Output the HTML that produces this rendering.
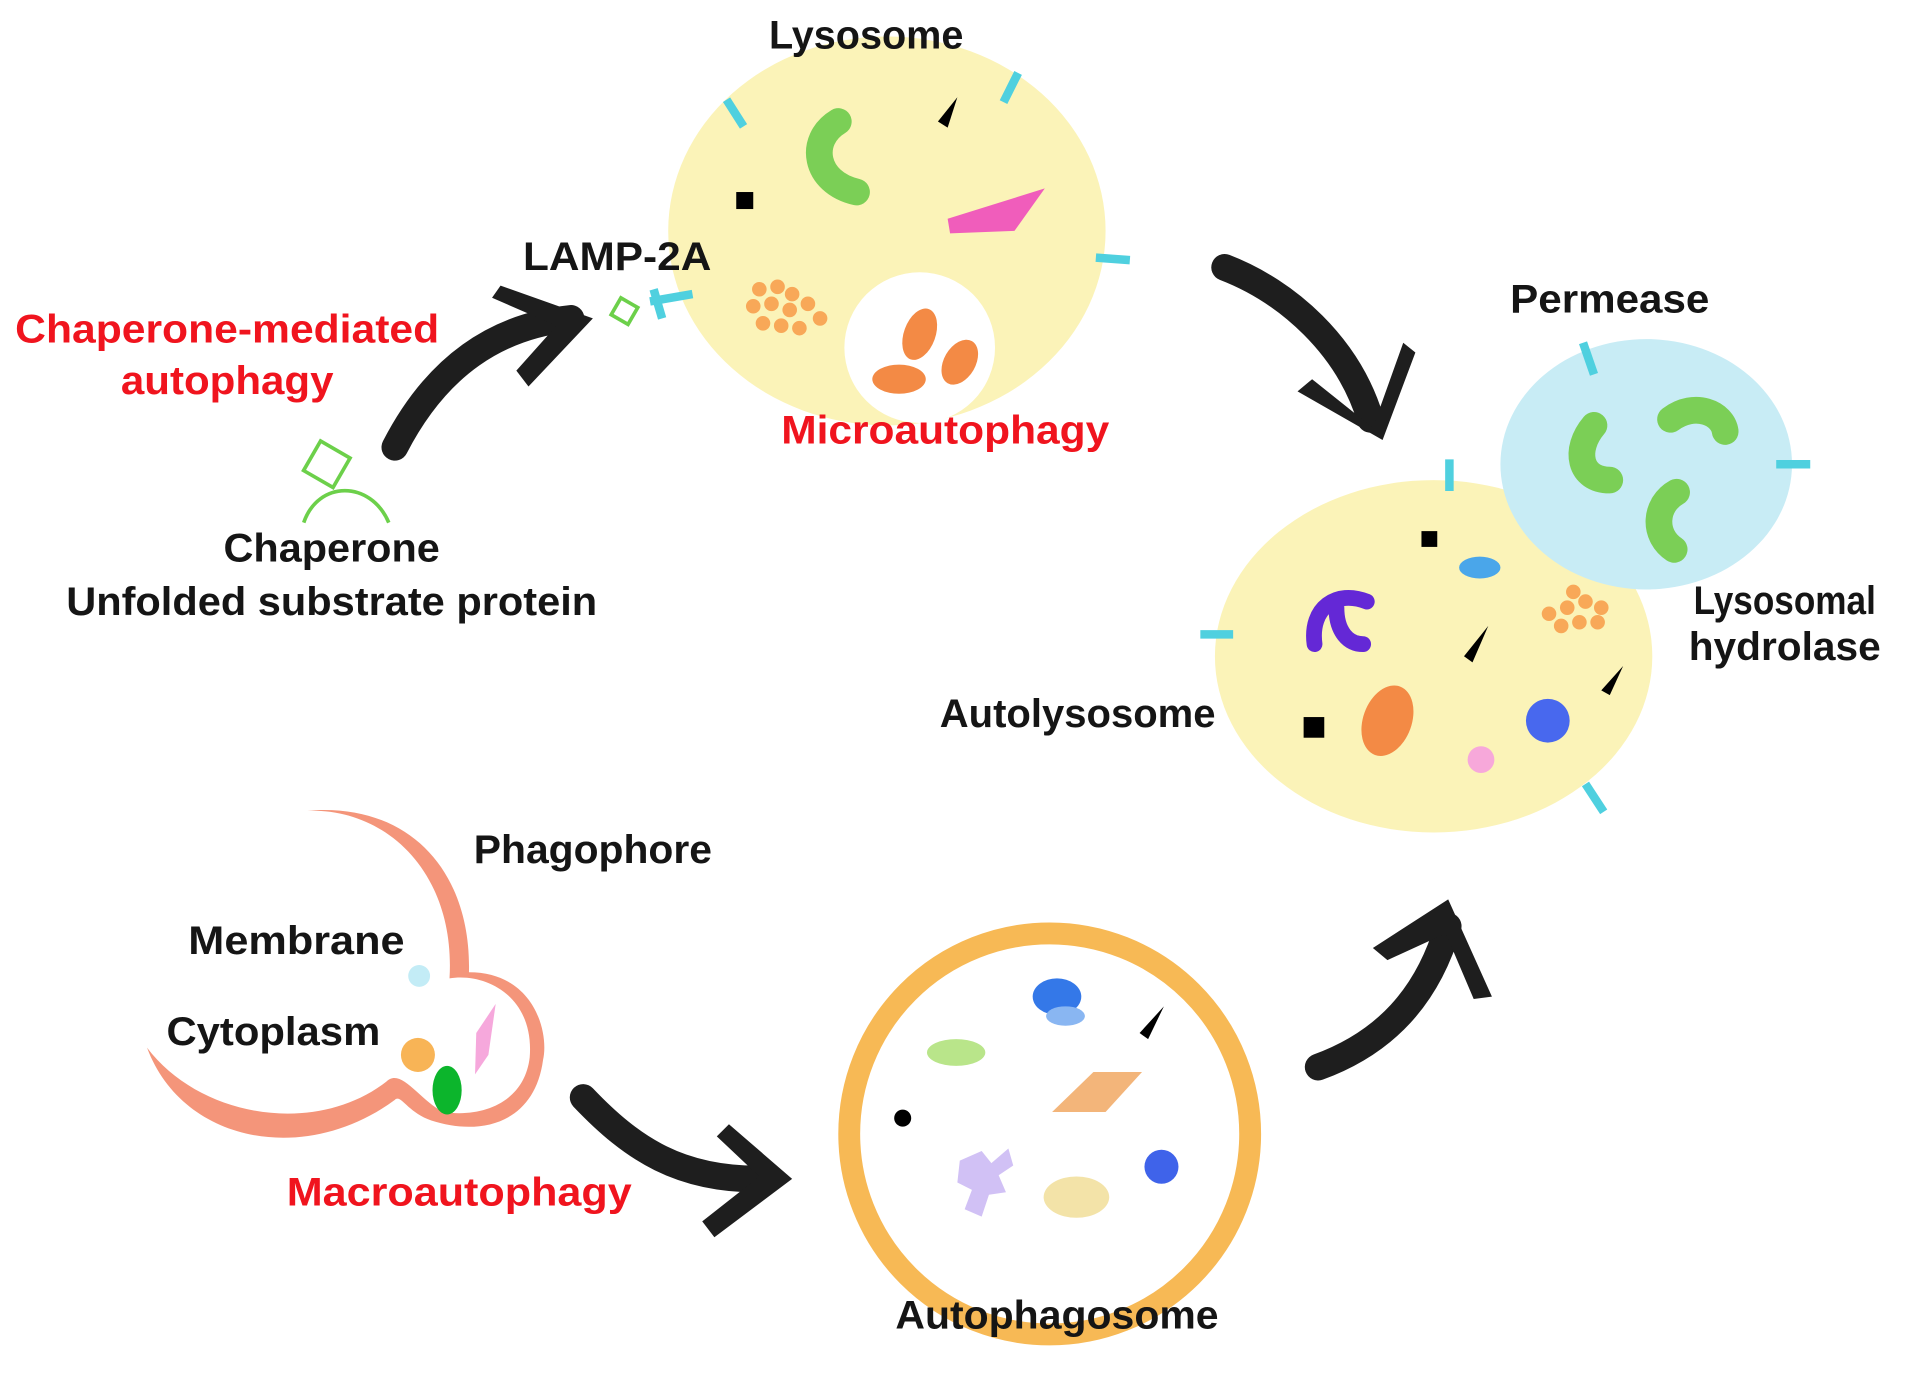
<!DOCTYPE html>
<html><head><meta charset="utf-8"><style>
html,body{margin:0;padding:0;background:#fff}
svg{display:block}
text{font-family:"Liberation Sans Narrow","Liberation Sans",sans-serif;font-size:33px;font-weight:bold;text-anchor:middle;fill:#151515}
.r{fill:#f0141e}
</style></head><body>
<svg width="1905" height="1377" viewBox="0 0 1568 1133" preserveAspectRatio="none" xmlns="http://www.w3.org/2000/svg">
<rect width="1568" height="1133" fill="#fff"/>
<!-- Lysosome -->
<ellipse cx="730" cy="190" rx="180" ry="160" fill="#fbf3b8"/>
<circle cx="757" cy="286" r="62" fill="#fff"/>
<g stroke="#4fd0df" stroke-width="7">
<line x1="598" y1="82" x2="612" y2="104"/><line x1="838" y1="60" x2="826" y2="84"/><line x1="902" y1="212" x2="930" y2="214"/>
<line x1="535" y1="248" x2="570" y2="242"/><line x1="538" y1="238" x2="545" y2="262"/>
</g>
<path d="M690,100 C665,115 670,150 705,158" stroke="#7bcf56" stroke-width="22" fill="none" stroke-linecap="round"/>
<path d="M780,180 L860,155 L835,190 L782,192Z" fill="#f05dbb"/>
<rect x="606" y="158" width="14" height="14" fill="#000"/>
<path d="M788,80 L780,105 L772,100Z" fill="#000"/>
<g fill="#f8a858"><circle cx="625" cy="238" r="6"/><circle cx="640" cy="236" r="6"/><circle cx="652" cy="242" r="6"/><circle cx="620" cy="252" r="6"/><circle cx="635" cy="250" r="6"/><circle cx="650" cy="255" r="6"/><circle cx="665" cy="250" r="6"/><circle cx="628" cy="266" r="6"/><circle cx="643" cy="268" r="6"/><circle cx="658" cy="270" r="6"/><circle cx="675" cy="262" r="6"/></g>
<g fill="#f38a45"><ellipse cx="757" cy="275" rx="13" ry="22" transform="rotate(20 757 275)"/><ellipse cx="740" cy="312" rx="22" ry="12"/><ellipse cx="790" cy="298" rx="13" ry="20" transform="rotate(30 790 298)"/></g>
<rect x="506" y="248" width="16" height="16" fill="none" stroke="#6cd04a" stroke-width="3" transform="rotate(30 514 256)"/>
<!-- Autolysosome -->
<ellipse cx="1180" cy="540" rx="180" ry="145" fill="#fbf3b8"/>
<ellipse cx="1355" cy="382" rx="120" ry="103" fill="#c8ecf5"/>
<g stroke="#4fd0df" stroke-width="7">
<line x1="1193" y1="378" x2="1193" y2="404"/><line x1="988" y1="522" x2="1015" y2="522"/><line x1="1305" y1="645" x2="1320" y2="668"/>
<line x1="1303" y1="282" x2="1312" y2="308"/><line x1="1462" y1="382" x2="1490" y2="382"/>
</g>
<g stroke="#7bcf56" stroke-width="22" fill="none" stroke-linecap="round">
<path d="M1312,350 C1295,370 1300,395 1325,395"/><path d="M1375,345 C1395,330 1418,340 1420,355"/><path d="M1380,405 C1362,415 1360,440 1378,452"/></g>
<path d="M1082,530 C1078,500 1100,485 1125,495 M1100,500 C1100,520 1110,530 1122,530" stroke="#6428d6" stroke-width="13" fill="none" stroke-linecap="round"/>
<rect x="1170" y="437" width="13" height="13" fill="#000"/><rect x="1073" y="590" width="17" height="17" fill="#000"/>
<ellipse cx="1218" cy="467" rx="17" ry="9" fill="#4aa6ea"/>
<ellipse cx="1142" cy="593" rx="20" ry="30" fill="#f38a45" transform="rotate(20 1142 593)"/>
<circle cx="1274" cy="593" r="18" fill="#4868ee"/><circle cx="1219" cy="625" r="11" fill="#f7a8da"/>
<path d="M1225,515 L1212,545 L1205,540Z M1336,548 L1325,572 L1318,568Z" fill="#000"/>
<g fill="#f8a858"><circle cx="1275" cy="505" r="6"/><circle cx="1290" cy="500" r="6"/><circle cx="1305" cy="495" r="6"/><circle cx="1318" cy="500" r="6"/><circle cx="1285" cy="515" r="6"/><circle cx="1300" cy="512" r="6"/><circle cx="1315" cy="512" r="6"/><circle cx="1295" cy="487" r="6"/></g>
<!-- Autophagosome -->
<circle cx="864" cy="933" r="165" fill="#fff" stroke="#f7b955" stroke-width="18"/>
<ellipse cx="870" cy="820" rx="20" ry="15" fill="#3478e8"/><ellipse cx="877" cy="836" rx="16" ry="8" fill="#89b6f2"/>
<ellipse cx="787" cy="866" rx="24" ry="11" fill="#b9e58a"/>
<path d="M900,882 L940,882 L910,915 L866,915Z" fill="#f3b57a"/>
<circle cx="743" cy="920" r="7" fill="#000"/><circle cx="956" cy="960" r="14" fill="#3f63ea"/>
<ellipse cx="886" cy="985" rx="27" ry="17" fill="#f3e3a8"/>
<path d="M790,955 l18,-8 l8,10 l14,-12 l4,14 l-12,8 l6,14 l-14,2 l-6,18 l-14,-6 l6,-16 l-12,-6Z" fill="#d1c1f5"/>
<path d="M958,828 L945,855 L938,850Z" fill="#000"/>
<!-- Phagophore -->
<path d="M253,667 C340,660 388,720 386,800 C440,800 452,850 447,872 C440,925 395,935 355,922 C335,915 330,900 325,905 C250,960 150,940 121,862 C165,920 260,935 318,890 C330,878 345,905 365,915 C400,920 432,905 436,870 C440,820 400,800 370,805 C375,720 320,665 253,667Z" fill="#f4957a"/>
<circle cx="345" cy="803" r="9" fill="#c3ecf6"/><circle cx="344" cy="868" r="14" fill="#f8b456"/>
<ellipse cx="368" cy="897" rx="12" ry="20" fill="#0cb52c"/>
<path d="M408,826 L402,868 L391,884 L392,850Z" fill="#f6a8dc"/>
<!-- chaperone -->
<rect x="255" y="368" width="28" height="28" fill="none" stroke="#6cd04a" stroke-width="3" transform="rotate(30 269 382)"/>
<path d="M250,430 C262,395 305,395 320,430" stroke="#6cd04a" stroke-width="3" fill="none"/>
<!-- arrows -->
<g fill="none" stroke="#1e1e1e" stroke-width="22" stroke-linecap="round">
<path d="M325,368 C360,300 410,268 470,262"/>
<path d="M1008,220 C1060,240 1110,285 1128,345"/>
<path d="M480,903 C520,945 560,972 630,970"/>
<path d="M1085,878 C1140,858 1175,820 1192,762"/>
</g>
<g fill="#1e1e1e">
<path d="M405,245 L412,235 L488,262 L435,318 L425,305 L458,268Z"/>
<path d="M1068,322 L1080,312 L1130,352 L1155,282 L1165,290 L1138,362Z"/>
<path d="M590,935 L600,925 L652,970 L588,1018 L578,1005 L625,968Z"/>
<path d="M1142,790 L1130,780 L1192,740 L1228,820 L1213,822 L1190,768Z"/>
</g>
<!-- labels -->
<g lengthAdjust="spacingAndGlyphs">
<text x="713" y="40" textLength="160" lengthAdjust="spacingAndGlyphs">Lysosome</text>
<text x="508" y="222" textLength="155" lengthAdjust="spacingAndGlyphs">LAMP-2A</text>
<text class="r" x="187" y="282" textLength="349" lengthAdjust="spacingAndGlyphs">Chaperone-mediated</text>
<text class="r" x="187" y="324" textLength="175" lengthAdjust="spacingAndGlyphs">autophagy</text>
<text x="273" y="462" textLength="178" lengthAdjust="spacingAndGlyphs">Chaperone</text>
<text x="273" y="506" textLength="437" lengthAdjust="spacingAndGlyphs">Unfolded substrate protein</text>
<text class="r" x="778" y="365" textLength="270" lengthAdjust="spacingAndGlyphs">Microautophagy</text>
<text x="1325" y="257" textLength="164" lengthAdjust="spacingAndGlyphs">Permease</text>
<text x="1469" y="505" textLength="150" lengthAdjust="spacingAndGlyphs">Lysosomal</text>
<text x="1469" y="543" textLength="158" lengthAdjust="spacingAndGlyphs">hydrolase</text>
<text x="887" y="598" textLength="227" lengthAdjust="spacingAndGlyphs">Autolysosome</text>
<text x="488" y="710" textLength="196" lengthAdjust="spacingAndGlyphs">Phagophore</text>
<text x="244" y="785" textLength="178" lengthAdjust="spacingAndGlyphs">Membrane</text>
<text x="225" y="860" textLength="176" lengthAdjust="spacingAndGlyphs">Cytoplasm</text>
<text class="r" x="378" y="992" textLength="284" lengthAdjust="spacingAndGlyphs">Macroautophagy</text>
<text x="870" y="1093" textLength="266" lengthAdjust="spacingAndGlyphs">Autophagosome</text>
</g>
</svg>
</body></html>
